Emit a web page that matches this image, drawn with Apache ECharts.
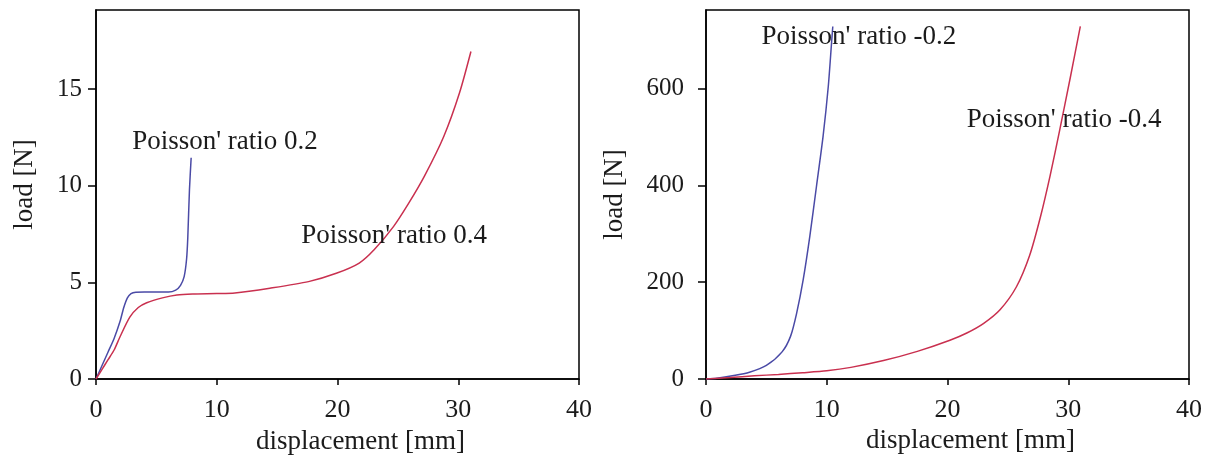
<!DOCTYPE html>
<html>
<head>
<meta charset="utf-8">
<script src="https://cdn.jsdelivr.net/npm/echarts@6/dist/echarts.min.js"></script>
<style>
html,body{margin:0;padding:0;background:#fff;}
#chart{width:1212px;height:468px;}
</style>
</head>
<body>
<div id="chart"></div>
<script>
// ---- data ----
const xTicks = [0, 10, 20, 30, 40];
const leftYTicks = [0, 5, 10, 15];
const rightYTicks = [0, 200, 400, 600];

const xName = 'displacement [mm]';
const yName = 'load [N]';

// left panel: positive Poisson ratios
const leftBlue = [[0,0],[0.5,0.7],[1,1.4],[1.5,2.1],[2,3.0],[2.3,3.7],[2.6,4.2],[2.9,4.42],[3.3,4.49],[4,4.5],[5,4.5],[6,4.5],[6.6,4.6],[7.0,4.85],[7.3,5.3],[7.5,6.2],[7.6,7.3],[7.74,9.8],[7.88,11.45]];
const leftRed = [[0,0],[0.5,0.5],[1,1.0],[1.5,1.5],[2,2.2],[2.8,3.2],[3.5,3.7],[4.2,3.95],[5.5,4.2],[6.7,4.35],[8,4.4],[10,4.42],[11.5,4.45],[14.4,4.7],[17.6,5.04],[19.9,5.47],[21.8,6.0],[23.05,6.7],[24.65,7.9],[25.9,9.1],[27.2,10.5],[28.8,12.55],[30.1,14.8],[31.05,16.95]];

// right panel: negative Poisson ratios
const rightBlue = [[0,0],[0.9,1.5],[2.3,7],[3.6,14],[5,28],[6.3,56],[7,88],[7.5,135],[8.05,205],[8.6,295],[9.15,398],[9.7,502],[10.13,605],[10.4,695],[10.5,728]];
const rightRed = [[0,0],[2,3],[4,6.5],[6,9.5],[8,13],[10,17],[12,24],[14.7,38],[17.5,57],[20.2,80],[21.6,95],[23,115],[24.35,143],[25.7,190],[26.8,255],[27.7,335],[28.5,420],[29.3,515],[30.15,620],[31,728]];

// annotations: [grid index, text, x, y]
const notes = [
  [0, "Poisson' ratio 0.2", 3.0, 12.25],
  [0, "Poisson' ratio 0.4", 17.0, 7.4],
  [1, "Poisson' ratio -0.2", 4.6, 706],
  [1, "Poisson' ratio -0.4", 21.6, 535]
];

// ---- chart ----
const FONT = "'Liberation Serif', 'Times New Roman', serif";
const TXT = '#1b1b1b';
const BLUE = '#4a4aa6';
const RED = '#c9304f';

const chart = echarts.init(document.getElementById('chart'));

function xAxisCfg(gi) {
  return {
    type: 'value', gridIndex: gi, min: 0, max: 40, interval: 10,
    name: xName, nameLocation: 'middle', nameGap: gi === 0 ? 49 : 46,
    nameTextStyle: { fontFamily: FONT, fontSize: 27, color: TXT, padding: [0, 0, 0, 46] },
    axisLine: { show: true, onZero: false, lineStyle: { color: '#000', width: 1.5 } },
    axisTick: { show: true, inside: false, length: 6, customValues: xTicks, lineStyle: { color: '#000', width: 1.5 } },
    axisLabel: { fontFamily: FONT, fontSize: 26, color: TXT, margin: 18, customValues: xTicks },
    splitLine: { show: false }
  };
}
function yAxisCfg(gi, max, ticks, gap, margin, pad) {
  return {
    type: 'value', gridIndex: gi, min: 0, max: max,
    name: yName, nameLocation: 'middle', nameGap: gap, nameRotate: 90,
    nameTextStyle: { fontFamily: FONT, fontSize: 27, color: TXT, padding: pad },
    axisLine: { show: true, onZero: false, lineStyle: { color: '#000', width: 1.5 } },
    axisTick: { show: true, inside: false, length: 8, customValues: ticks, lineStyle: { color: '#000', width: 1.5 } },
    axisLabel: { fontFamily: FONT, fontSize: 25, color: TXT, margin: margin, customValues: ticks },
    splitLine: { show: false }
  };
}
function lineSeries(data, color, xi) {
  return {
    type: 'line', data: data, xAxisIndex: xi, yAxisIndex: xi,
    showSymbol: false, symbol: 'none', smooth: 0.25,
    lineStyle: { color: color, width: 1.5 }, silent: true, animation: false
  };
}

chart.setOption({
  animation: false,
  backgroundColor: '#fff',
  grid: [
    { left: 96, top: 10, width: 483, height: 369, show: true, borderColor: '#000', borderWidth: 1.5, backgroundColor: 'transparent' },
    { left: 706, top: 10, width: 483, height: 369, show: true, borderColor: '#000', borderWidth: 1.5, backgroundColor: 'transparent' }
  ],
  xAxis: [xAxisCfg(0), xAxisCfg(1)],
  yAxis: [yAxisCfg(0, 19.1, leftYTicks, 58, 14, [0, 0, 0, 20]), yAxisCfg(1, 762, rightYTicks, 78, 22, [0, 0, 0, 0])],
  series: [
    lineSeries(leftBlue, BLUE, 0),
    lineSeries(leftRed, RED, 0),
    lineSeries(rightBlue, BLUE, 1),
    lineSeries(rightRed, RED, 1)
  ]
});

const graphics = notes.map(n => {
  const p = chart.convertToPixel({ gridIndex: n[0] }, [n[2], n[3]]);
  return {
    type: 'text', x: p[0], y: p[1], z: 10,
    style: { text: n[1], fontFamily: FONT, fontSize: 27, fill: TXT, align: 'left', verticalAlign: 'middle' }
  };
});
chart.setOption({ graphic: graphics });
</script>
</body>
</html>
